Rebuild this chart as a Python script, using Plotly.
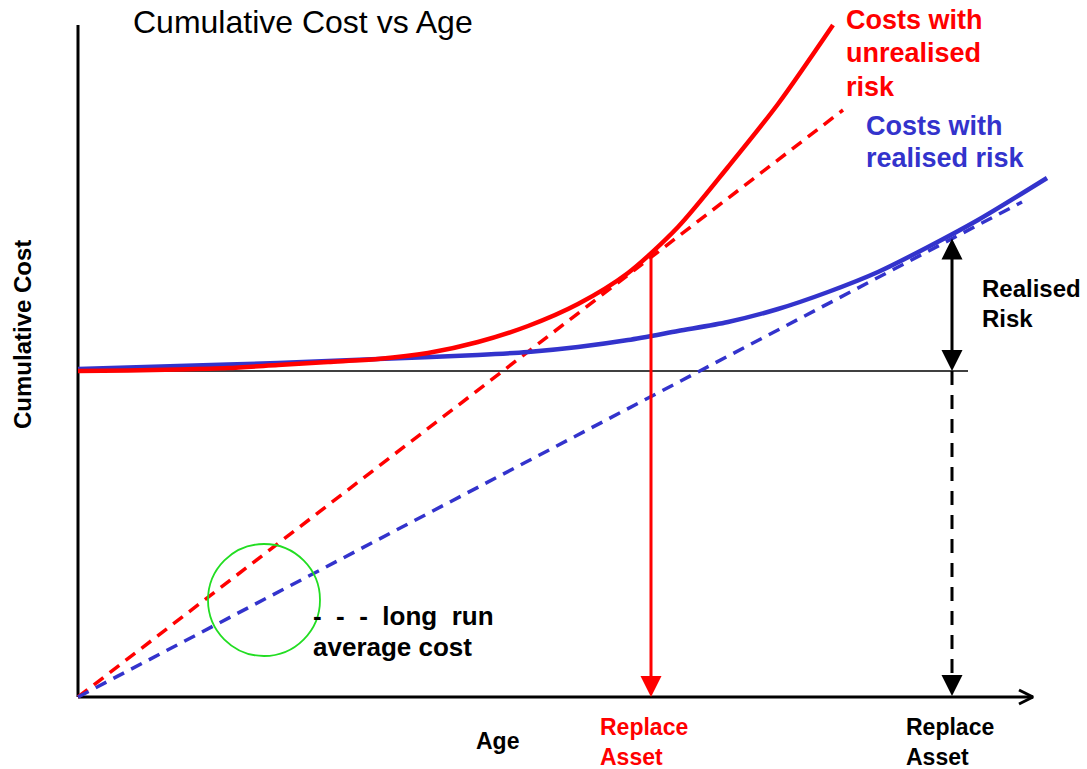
import plotly.graph_objects as go

# ---- data (age units, cost units) ----
unrealised_age = [0, 0.5, 1.0, 1.5, 2.0, 2.5, 3.0, 3.5, 4.0, 4.5, 5.0, 5.5, 6.0, 6.5, 7.0, 7.55]
unrealised_cost = [3.26, 3.265, 3.275, 3.29, 3.32, 3.35, 3.38, 3.44, 3.55, 3.71, 3.93, 4.24,
                   4.70, 5.30, 5.93, 6.72]

realised_age = [0, 1, 2, 3, 4, 4.5, 5, 5.5, 6, 6.5, 7, 7.5, 8, 8.5, 9, 9.69]
realised_cost = [3.28, 3.31, 3.34, 3.38, 3.42, 3.45, 3.50, 3.57, 3.66, 3.75, 3.88, 4.05, 4.25,
                 4.50, 4.77, 5.19]

avg_unrealised_age = [0, 7.65]
avg_unrealised_cost = [0, 5.87]
avg_realised_age = [0, 9.44]
avg_realised_cost = [0, 4.95]

base_cost = 3.26            # initial cumulative cost level
replace_unrealised = 5.73   # replacement age, unrealised risk
replace_unrealised_cost = 4.44
replace_realised = 8.74     # replacement age, realised risk
replace_realised_cost = 4.60
age_axis_end = 9.55
cost_axis_end = 6.72
baseline_end = 8.90

RED = "#FF0000"
BLUE = "#3333CC"
FONT = "Arial, Liberation Sans, sans-serif"

fig = go.Figure()

# axes
fig.add_trace(go.Scatter(x=[0, 0], y=[0, cost_axis_end], mode="lines",
                         line=dict(color="black", width=3), hoverinfo="skip"))
fig.add_trace(go.Scatter(x=[0, age_axis_end], y=[0, 0], mode="lines",
                         line=dict(color="black", width=3), hoverinfo="skip"))
# chevron at end of age axis
fig.add_trace(go.Scatter(x=[age_axis_end - 0.14, age_axis_end, age_axis_end - 0.14],
                         y=[0.07, 0, -0.07], mode="lines",
                         line=dict(color="black", width=3), hoverinfo="skip"))
# baseline
fig.add_trace(go.Scatter(x=[0, baseline_end], y=[base_cost, base_cost], mode="lines",
                         line=dict(color="black", width=1.5), hoverinfo="skip"))

# average cost lines
fig.add_trace(go.Scatter(x=avg_unrealised_age, y=avg_unrealised_cost, mode="lines",
                         line=dict(color=RED, width=3.5, dash="12px,8px"), hoverinfo="skip"))
fig.add_trace(go.Scatter(x=avg_realised_age, y=avg_realised_cost, mode="lines",
                         line=dict(color=BLUE, width=3.5, dash="12px,8px"), hoverinfo="skip"))

# cost curves
fig.add_trace(go.Scatter(x=realised_age, y=realised_cost, mode="lines",
                         line=dict(color=BLUE, width=4.5, shape="spline", smoothing=0.8),
                         hoverinfo="skip"))
fig.add_trace(go.Scatter(x=unrealised_age, y=unrealised_cost, mode="lines",
                         line=dict(color=RED, width=4.5, shape="spline", smoothing=0.8),
                         hoverinfo="skip"))

# dashed drop at realised replacement age
fig.add_trace(go.Scatter(x=[replace_realised, replace_realised], y=[base_cost, 0.12], mode="lines",
                         line=dict(color="black", width=3, dash="14px,10px"), hoverinfo="skip"))

# green circle
fig.add_shape(type="circle", xref="x", yref="y", x0=1.30, x1=2.42, y0=0.41, y1=1.53,
              line=dict(color="#22DD22", width=1.8))

# arrows
fig.add_annotation(x=replace_unrealised, y=0, ax=replace_unrealised, ay=replace_unrealised_cost,
                   xref="x", yref="y", axref="x", ayref="y", text="", showarrow=True,
                   arrowhead=2, arrowsize=1.4, arrowwidth=3, arrowcolor=RED, standoff=0)
fig.add_annotation(x=replace_realised, y=base_cost, ax=replace_realised, ay=replace_realised_cost,
                   xref="x", yref="y", axref="x", ayref="y", text="", showarrow=True,
                   arrowhead=2, arrowsize=1.4, arrowwidth=3, arrowcolor="black",
                   arrowside="end+start", standoff=0, startstandoff=0, startarrowhead=2,
                   startarrowsize=1.4)
fig.add_annotation(x=replace_realised, y=0.01, ax=replace_realised, ay=0.2,
                   xref="x", yref="y", axref="x", ayref="y", text="", showarrow=True,
                   arrowhead=2, arrowsize=1.4, arrowwidth=3, arrowcolor="black", standoff=0)

# texts (paper pixel positions)
W, H = 1087, 769


def txt(s, px, py, size, color="black", bold=True, anchor="left"):
    fig.add_annotation(x=px / W, y=1 - py / H, xref="paper", yref="paper", text=s,
                       showarrow=False, xanchor=anchor, yanchor="middle", align="left",
                       font=dict(family=FONT, size=size, color=color,
                                 weight="bold" if bold else "normal"))


txt("Cumulative Cost vs Age", 131, 22, 32, bold=False)
txt("Costs with", 844, 20, 27, RED)
txt("unrealised", 844, 53, 27, RED)
txt("risk", 844, 87, 27, RED)
txt("Costs with", 864, 126, 27, BLUE)
txt("realised risk", 864, 158, 27, BLUE)
txt("Realised", 980, 289, 24)
txt("Risk", 980, 318, 24)
txt("-\u00a0\u00a0-\u00a0\u00a0-\u00a0\u00a0long\u00a0\u00a0run", 311, 616, 26)
txt("average cost", 311, 647, 26)
txt("Age", 497, 741, 23, anchor="center")
txt("Replace<br>Asset", 598, 742, 23, RED)
txt("Replace<br>Asset", 904, 742, 23)
fig.add_annotation(x=22 / W, y=1 - 335 / H, xref="paper", yref="paper",
                   text="Cumulative Cost", showarrow=False, textangle=-90,
                   xanchor="center", yanchor="middle",
                   font=dict(family=FONT, size=24, color="black", weight="bold"))

fig.update_layout(
    width=W, height=H, margin=dict(l=0, r=0, t=0, b=0),
    paper_bgcolor="white", plot_bgcolor="white", showlegend=False,
    xaxis=dict(range=[-0.78, 10.09], visible=False, fixedrange=True),
    yaxis=dict(range=[-0.72, 6.97], visible=False, fixedrange=True),
)

fig.write_html("out.html", config={"displayModeBar": False},
               post_script="document.body.style.margin='0';document.body.style.overflow='hidden';")
